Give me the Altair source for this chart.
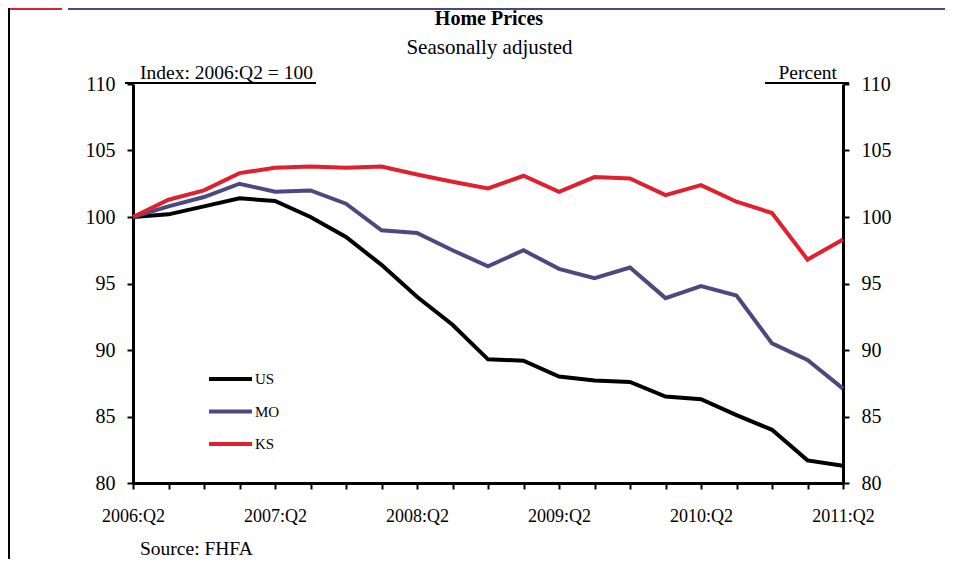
import altair as alt
import pandas as pd

quarters = [
    "2006:Q2", "2006:Q3", "2006:Q4", "2007:Q1", "2007:Q2", "2007:Q3", "2007:Q4",
    "2008:Q1", "2008:Q2", "2008:Q3", "2008:Q4", "2009:Q1", "2009:Q2", "2009:Q3",
    "2009:Q4", "2010:Q1", "2010:Q2", "2010:Q3", "2010:Q4", "2011:Q1", "2011:Q2",
]
us = [100.0, 100.2, 100.8, 101.4, 101.2, 100.0, 98.5, 96.4, 94.0, 91.9, 89.3,
      89.2, 88.0, 87.7, 87.6, 86.5, 86.3, 85.1, 84.0, 81.7, 81.3]
mo = [100.0, 100.8, 101.5, 102.5, 101.9, 102.0, 101.0, 99.0, 98.8, 97.5, 96.3,
      97.5, 96.1, 95.4, 96.2, 93.9, 94.8, 94.1, 90.5, 89.25, 87.1]
ks = [100.0, 101.3, 102.0, 103.3, 103.7, 103.8, 103.7, 103.8, 103.2, 102.65, 102.15,
      103.1, 101.9, 103.0, 102.9, 101.65, 102.4, 101.15, 100.3, 96.8, 98.3]
series_names = ["US", "MO", "KS"]
series_colors = ["#000000", "#4b4a7e", "#e0202e"]
y_ticks = [80, 85, 90, 95, 100, 105, 110]

FONT = "Liberation Serif"

rows = []
for name, vals in zip(series_names, [us, mo, ks]):
    for q, v in zip(quarters, vals):
        rows.append({"quarter": q, "value": v, "series": name})
df = pd.DataFrame(rows)

x_enc = alt.X(
    "quarter:O", sort=quarters,
    scale=alt.Scale(type="point", padding=0),
    axis=alt.Axis(
        title=None, labelAngle=0, labelOverlap=False,
        labelExpr="indexof(datum.label, 'Q2') >= 0 ? datum.label : ''",
        labelFont=FONT, labelFontSize=18, labelColor="black", labelPadding=18,
        tickSize=6, tickWidth=2, tickColor="black",
        domainWidth=3, domainColor="black", grid=False,
    ),
)

def y_axis(orient):
    return alt.Axis(
        orient=orient, title=None, values=y_ticks,
        labelFont=FONT, labelFontSize=20, labelColor="black", labelPadding=12,
        tickSize=6, tickWidth=2, tickColor="black",
        domainWidth=3, domainColor="black", grid=False,
    )

lines = alt.Chart(df).mark_line(strokeWidth=4).encode(
    x=x_enc,
    y=alt.Y("value:Q", scale=alt.Scale(domain=[80, 110], nice=False, zero=False),
            axis=y_axis("left")),
    color=alt.Color(
        "series:N",
        scale=alt.Scale(domain=series_names, range=series_colors),
        legend=alt.Legend(
            title=None, orient="none", legendX=74, legendY=287,
            symbolType="stroke", symbolSize=1849, symbolStrokeWidth=4,
            clipHeight=16, rowPadding=16.5, labelOffset=1, padding=0,
            labelFont=FONT, labelFontSize=15, labelFontWeight="normal",
            labelColor="black",
        ),
    ),
    order=alt.Order("series_order:Q"),
).transform_calculate(
    series_order="indexof(['US','MO','KS'], datum.series)"
)

right = alt.Chart(df).mark_line(opacity=0).encode(
    x=x_enc,
    y=alt.Y("value:Q", scale=alt.Scale(domain=[80, 110], nice=False, zero=False),
            axis=y_axis("right")),
)

one = pd.DataFrame({"a": [0]})

def rect(x, x2, y, y2, color):
    return alt.Chart(one).mark_rect(color=color).encode(
        x=alt.value(x), x2=alt.value(x2), y=alt.value(y), y2=alt.value(y2))

def text(t, x, y, align="left", bold=False, size=19):
    return alt.Chart(one).mark_text(
        align=align, baseline="alphabetic", font=FONT, fontSize=size,
        fontWeight="bold" if bold else "normal", color="black",
    ).encode(x=alt.value(x), y=alt.value(y), text=alt.value(t))

decor = [
    rect(-125, -71, -76, -74, "#e0202c"),
    rect(-65, 812, -76, -74, "#474a7a"),
    rect(-125, -123, -76, 475, "#000000"),
    rect(-8, 183, -2, 0, "#000000"),
    rect(632, 716, -2, 0, "#000000"),
    text("Home Prices", 356, -59, align="center", bold=True, size=20),
    text("Seasonally adjusted", 356.5, -30, align="center", size=21),
    text("Index: 2006:Q2 = 100", 7, -5, size=19.5),
    text("Percent", 704, -5, align="right", size=19.5),
    text("Source: FHFA", 7, 471, size=19.5),
]

chart = alt.layer(lines, right, *decor).resolve_scale(y="independent").properties(
    width=710, height=399,
    autosize=alt.AutoSizeParams(type="none"),
    padding={"left": 125, "top": 76, "right": 102, "bottom": 76},
).configure_view(stroke=None)

chart.save("out.html", embed_options={"renderer": "svg", "actions": False})
